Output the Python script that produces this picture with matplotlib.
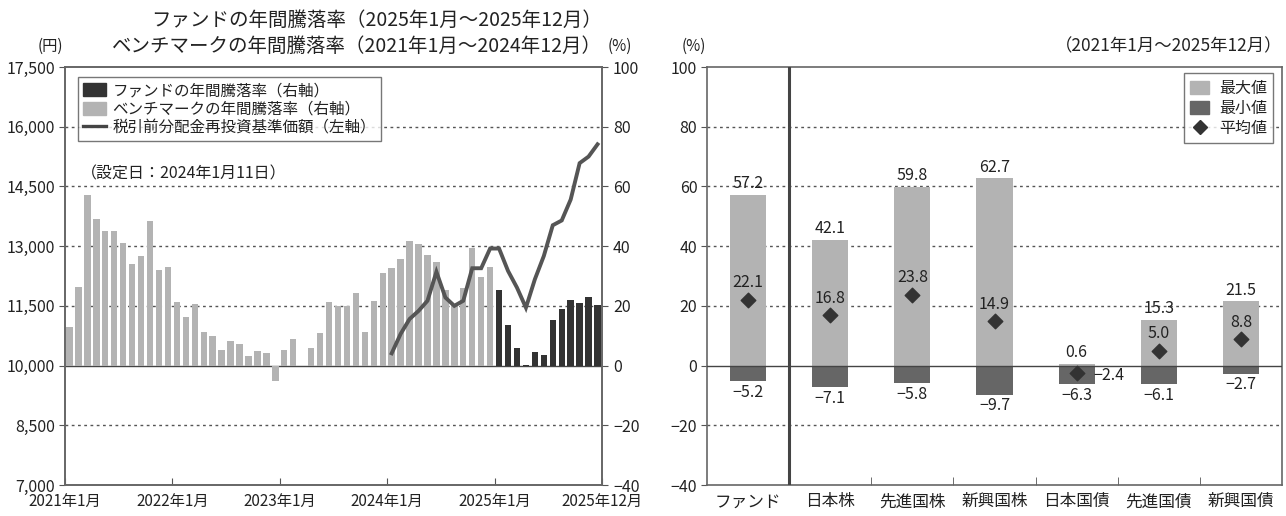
import matplotlib
matplotlib.use("Agg")
import matplotlib.pyplot as plt
from matplotlib.patches import Patch
from matplotlib.lines import Line2D
import numpy as np

plt.rcParams['font.family'] = ['Noto Sans CJK JP', 'DejaVu Sans']
plt.rcParams['axes.unicode_minus'] = True

# ---------------- data: left chart ----------------
bench_returns = [13.0, 26.3, 57.2, 49.2, 45.2, 45.2, 40.9, 34.0, 36.7, 48.3, 32.0, 33.0,
                 21.3, 16.3, 20.6, 11.4, 10.0, 5.2, 8.3, 7.1, 3.1, 5.0, 4.2, -5.2,
                 5.2, 8.9, -0.3, 5.9, 10.8, 21.4, 20.1, 20.1, 24.4, 11.2, 21.7, 31.0,
                 32.8, 35.8, 41.6, 40.6, 37.1, 34.8, 25.4, 20.3, 26.0, 39.4, 29.5, 33.0]
fund_returns = [25.2, 13.6, 5.8, 0.1, 4.6, 3.5, 15.4, 18.8, 21.9, 21.0, 22.8, 20.2]
nav_values = [10308, 10795, 11170, 11373, 11628, 12355, 11710, 11500, 11628, 12445, 12445, 12940,
              12940, 12378, 11958, 11455, 12168, 12753, 13525, 13645, 14170, 15085, 15250, 15558]
x_labels = ['2021年1月', '2022年1月', '2023年1月', '2024年1月', '2025年1月', '2025年12月']
yen_ticks = [7000, 8500, 10000, 11500, 13000, 14500, 16000, 17500]
pct_ticks = [-40, -20, 0, 20, 40, 60, 80, 100]

# ---------------- data: right chart ----------------
categories = ['ファンド', '日本株', '先進国株', '新興国株', '日本国債', '先進国債', '新興国債']
max_vals = [57.2, 42.1, 59.8, 62.7, 0.6, 15.3, 21.5]
min_vals = [-5.2, -7.1, -5.8, -9.7, -6.3, -6.1, -2.7]
avg_vals = [22.1, 16.8, 23.8, 14.9, -2.4, 5.0, 8.8]

LIGHT = '#b3b3b3'
DARK = '#333333'
MID = '#666666'
GRID = '#555555'
TXT = '#222222'

def fmt(v):
    return ('−' + f'{abs(v):.1f}') if v < 0 else f'{v:.1f}'

def fmt_int(v):
    return ('−' + f'{abs(v):,}') if v < 0 else f'{v:,}'

fig = plt.figure(figsize=(12.86, 5.16), dpi=100)

# ================= LEFT =================
axp = fig.add_axes([65/1286, 1-485/516, (602-65)/1286, (485-67)/516])
axy = axp.twinx()
n_b = len(bench_returns)
n_f = len(fund_returns)
xb = np.arange(n_b)
xf = np.arange(n_b, n_b + n_f)
axp.set_xlim(-0.5, n_b + n_f - 0.5)
axp.set_ylim(pct_ticks[0], pct_ticks[-1])
for t in pct_ticks[1:-1]:
    if t == 0:
        axp.axhline(0, color='#444444', lw=1.0, zorder=1)
    else:
        axp.axhline(t, color=GRID, lw=1.0, ls=(0, (2, 2.5)), zorder=1)
axp.bar(xb, bench_returns, width=0.72, color=LIGHT, zorder=2)
axp.bar(xf, fund_returns, width=0.72, color=DARK, zorder=2)
axp.yaxis.tick_right()
axp.set_yticks(pct_ticks)
axp.set_yticklabels([fmt_int(t) for t in pct_ticks])
axp.tick_params(axis='y', direction='out', length=4, color=GRID, labelsize=11.5, labelcolor=TXT, pad=4)

axy.yaxis.tick_left()
axy.set_ylim(yen_ticks[0], yen_ticks[-1])
axy.set_yticks(yen_ticks)
axy.set_yticklabels([fmt_int(t) for t in yen_ticks])
axy.tick_params(axis='y', direction='out', length=4, color=GRID, labelsize=11.5, labelcolor=TXT, pad=3)
x_nav = np.arange(n_b + n_f - len(nav_values), n_b + n_f)
axy.plot(x_nav, nav_values, color='#555555', lw=2.8, zorder=5, solid_joinstyle='miter')

tick_pos = [-0.5, 11.5, 23.5, 35.5, 47.5, 59.5]
axp.set_xticks(tick_pos)
axp.set_xticklabels(x_labels)
axp.tick_params(axis='x', direction='in', length=5, color=GRID, labelsize=11, labelcolor=TXT, pad=6)
for ax in (axp, axy):
    for s in ax.spines.values():
        s.set_color('#666666')
        s.set_linewidth(1.2)

handles = [Patch(facecolor=DARK, edgecolor=DARK),
           Patch(facecolor=LIGHT, edgecolor=LIGHT),
           Line2D([0], [0], color='#444444', lw=2.4)]
labels = ['ファンドの年間騰落率（右軸）', 'ベンチマークの年間騰落率（右軸）', '税引前分配金再投資基準価額（左軸）']
leg = axy.legend(handles, labels, loc='upper left', bbox_to_anchor=(0.025, 0.975), fontsize=11.2,
                 frameon=True, fancybox=False, edgecolor='#555555', handlelength=1.5, handleheight=0.9,
                 handletextpad=0.4, borderpad=0.3, labelspacing=0.1, borderaxespad=0)
leg.get_frame().set_linewidth(1.0)
for t in leg.get_texts():
    t.set_color(TXT)
axp.text(0.03, 0.745, '（設定日：2024年1月11日）', transform=axp.transAxes, fontsize=11.5, color=TXT,
         ha='left', va='center')

fig.text(602/1286, 1-20/516, 'ファンドの年間騰落率（2025年1月～2025年12月）', ha='right', va='center',
         fontsize=14, color=TXT)
fig.text(602/1286, 1-46/516, 'ベンチマークの年間騰落率（2021年1月～2024年12月）', ha='right', va='center',
         fontsize=14, color=TXT)
fig.text(50/1286, 1-46/516, '(円)', ha='center', va='center', fontsize=11, color=TXT)
fig.text(620/1286, 1-46/516, '(%)', ha='center', va='center', fontsize=11, color=TXT)

# ================= RIGHT =================
axr = fig.add_axes([707/1286, 1-485/516, (1282-707)/1286, (485-67)/516])
nc = len(categories)
xc = np.arange(nc)
axr.set_xlim(-0.5, nc - 0.5)
axr.set_ylim(pct_ticks[0], pct_ticks[-1])
for t in pct_ticks[1:-1]:
    if t == 0:
        axr.axhline(0, color='#444444', lw=1.0, zorder=3)
    else:
        axr.axhline(t, color=GRID, lw=1.0, ls=(0, (2, 2.5)), zorder=1)
bw = 0.44
axr.bar(xc, max_vals, width=bw, color=LIGHT, zorder=2)
axr.bar(xc, min_vals, width=bw, color=MID, zorder=2)
axr.scatter(xc, avg_vals, marker='D', s=55, color=DARK, zorder=5)
axr.axvline(0.5, color='#444444', lw=2.2, zorder=4)

for i in range(nc):
    axr.annotate(fmt(max_vals[i]), (xc[i], max_vals[i]), xytext=(0, 2), textcoords='offset points',
                 ha='center', va='bottom', fontsize=11.5, color=TXT)
    axr.annotate(fmt(min_vals[i]), (xc[i], min_vals[i]), xytext=(0, -2), textcoords='offset points',
                 ha='center', va='top', fontsize=11.5, color=TXT)
    if avg_vals[i] < max_vals[i] - 5:
        axr.annotate(fmt(avg_vals[i]), (xc[i], avg_vals[i]), xytext=(0, 6), textcoords='offset points',
                     ha='center', va='bottom', fontsize=11.5, color=TXT)
    else:
        axr.annotate(fmt(avg_vals[i]), (xc[i], avg_vals[i]), xytext=(12, -2), textcoords='offset points',
                     ha='left', va='center', fontsize=11.5, color=TXT)

axr.set_yticks(pct_ticks)
axr.set_yticklabels([fmt_int(t) for t in pct_ticks])
axr.tick_params(axis='y', direction='out', length=4, color=GRID, labelsize=11.5, labelcolor=TXT, pad=3)
axr.set_xticks(xc)
axr.set_xticklabels(categories)
axr.tick_params(axis='x', which='major', length=0, labelsize=12, labelcolor=TXT, pad=6)
axr.set_xticks(np.arange(1.5, nc - 0.5, 1.0), minor=True)
axr.tick_params(axis='x', which='minor', direction='in', length=6, color=GRID)
for s in axr.spines.values():
    s.set_color('#666666')
    s.set_linewidth(1.2)

rh = [Patch(facecolor=LIGHT, edgecolor=LIGHT),
      Patch(facecolor=MID, edgecolor=MID),
      Line2D([0], [0], marker='D', color='none', markerfacecolor=DARK, markeredgecolor=DARK, markersize=7)]
leg2 = axr.legend(rh, ['最大値', '最小値', '平均値'], loc='upper right', bbox_to_anchor=(0.985, 0.985),
                  fontsize=11.5, frameon=True, fancybox=False, edgecolor='#555555', handlelength=1.2,
                  handleheight=0.9, handletextpad=0.6, borderpad=0.4, labelspacing=0.2, borderaxespad=0)
leg2.get_frame().set_linewidth(1.0)
for t in leg2.get_texts():
    t.set_color(TXT)

fig.text(694/1286, 1-46/516, '(%)', ha='center', va='center', fontsize=11, color=TXT)
fig.text(1282/1286, 1-46/516, '（2021年1月～2025年12月）', ha='right', va='center', fontsize=12.5, color=TXT)

fig.savefig('out.png', dpi=100)
